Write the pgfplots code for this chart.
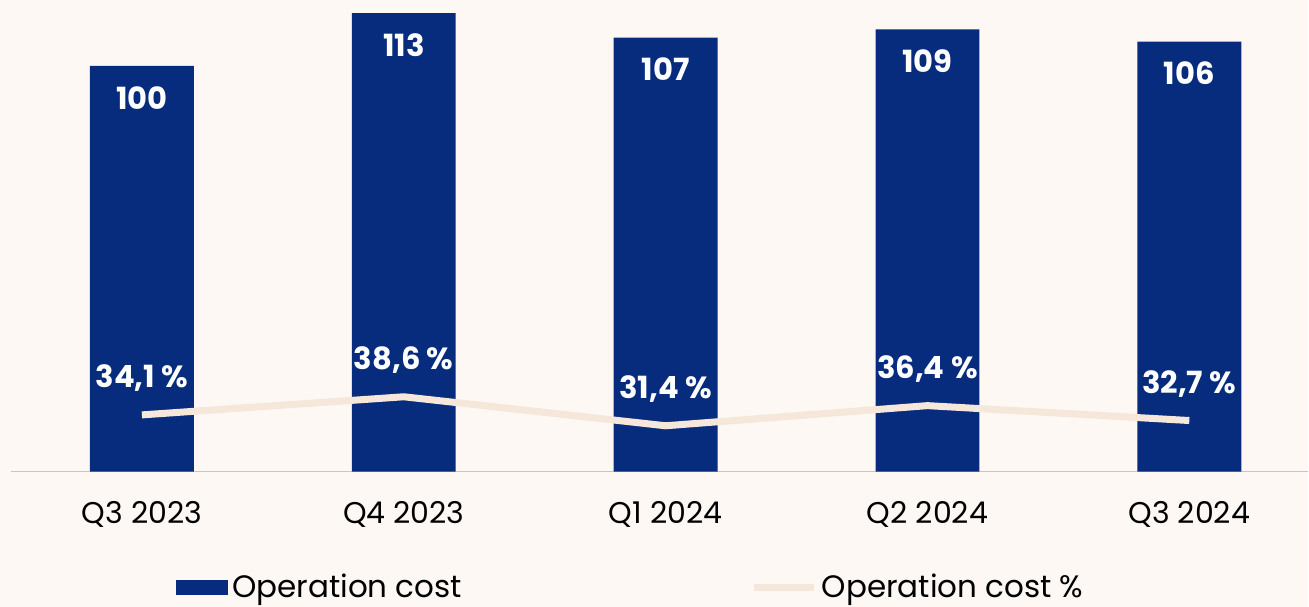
\documentclass[border=0pt]{standalone}
\usepackage{pgfplots}
\pgfplotsset{compat=1.18}
\usepackage{fontspec}
\setmainfont{Poppins}
\usetikzlibrary{backgrounds,calc}
\definecolor{bgc}{HTML}{FDF8F4}
\definecolor{navy}{HTML}{072C7D}
\definecolor{linec}{HTML}{F5E7DA}
\definecolor{axgray}{HTML}{C9C5C5}
\begin{document}
\begin{tikzpicture}
% bars, operation cost
\begin{axis}[name=ax, scale only axis, width=649pt, height=236pt,
    xmin=-0.5, xmax=4.454, ymin=0, ymax=116.26,
    hide y axis, axis x line*=bottom,
    x axis line style={draw=axgray, line width=0.8pt, -},
    xtick={0,1,2,3,4},
    xticklabels={Q3 2023,Q4 2023,Q1 2024,Q2 2024,Q3 2024},
    major tick length=0pt,
    xticklabel style={font=\fontsize{15}{17}\selectfont, yshift=-11.5pt},
    ybar, bar width=52pt, clip=false,
    /pgf/number format/assume math mode=true,
    nodes near coords,
    nodes near coords align={anchor=center},
    every node near coord/.append style={text=white, font=\fontsize{15.3}{18}\selectfont\bfseries, yshift=-16pt},
    legend columns=2,
    legend style={draw=none, fill=none, at={(0.127,0)}, anchor=west, yshift=-58pt,
        inner sep=0pt, font=\fontsize{15.5}{17}\selectfont,
        /tikz/every even column/.append style={column sep=142.5pt}},
    legend cell align=left,
]
\addplot[fill=navy, draw=none,
    legend image code/.code={\fill[navy] (0pt,-3.75pt) rectangle (26pt,3.75pt);}]
    coordinates {(0,100) (1,113) (2,107) (3,109) (4,106)};
\addlegendentry{Operation cost}
\addlegendimage{legend image code/.code={\draw[linec, line width=3.5pt] (0pt,0pt) -- (30pt,0pt);}}
\addlegendentry{Operation cost \%}
\end{axis}
% line, operation cost %
\begin{axis}[scale only axis, width=649pt, height=236pt,
    xmin=-0.5, xmax=4.454, ymin=20, ymax=137.1,
    axis lines=none, clip=false,
    nodes near coords, point meta=explicit symbolic,
    nodes near coords align={anchor=center},
    every node near coord/.append style={text=white, font=\fontsize{15.3}{18}\selectfont\bfseries, yshift=18.5pt},
]
\addplot[linec, line width=3.5pt, mark=none] coordinates {
    (0,34.1) [{34,1 \%}]
    (1,38.6) [{38,6 \%}]
    (2,31.4) [{31,4 \%}]
    (3,36.4) [{36,4 \%}]
    (4,32.7) [{32,7 \%}]
};
\end{axis}
\begin{pgfonlayer}{background}
\fill[bgc] ($(ax.south west)+(-5.5pt,-67.5pt)$) rectangle (ax.north east);
\end{pgfonlayer}
\end{tikzpicture}
\end{document}
